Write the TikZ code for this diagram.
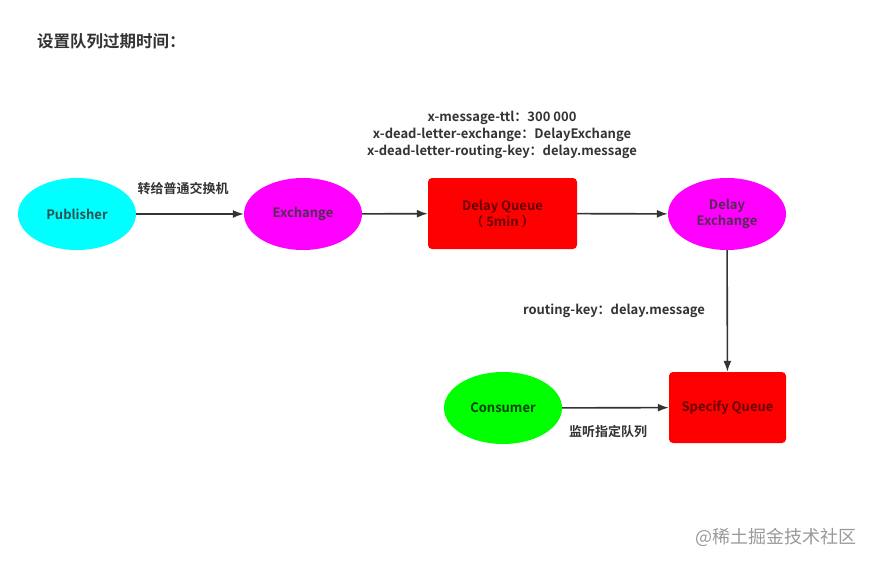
\documentclass[tikz,border=0pt]{standalone}
\usepackage{fontspec}
\setmainfont{Noto Sans CJK SC}[BoldFont={* Bold}]
\usetikzlibrary{shapes.geometric,arrows.meta}
\definecolor{txt}{HTML}{333333}
\definecolor{cyanf}{HTML}{00FFFF}
\definecolor{magf}{HTML}{FF00FF}
\definecolor{greenf}{HTML}{00FF00}
\definecolor{redf}{HTML}{FF0000}
\tikzset{
  base/.style={font=\bfseries\fontsize{13}{16}\selectfont, text=txt, align=center, inner sep=0pt},
  ell/.style={base, ellipse, minimum width=118pt, minimum height=72pt, text opacity=0.85},
  box/.style={base, rectangle, rounded corners=4pt, minimum width=149pt, minimum height=71pt, fill=redf, text opacity=0.6, text=black},
  lbl/.style={font=\bfseries\fontsize{13}{17}\selectfont, text=txt, align=center, inner sep=0pt},
  conn/.style={draw=txt, line width=1.6pt, -{Latex[length=11pt,width=8pt]}}
}
\begin{document}
\begin{tikzpicture}[x=1pt,y=-1pt]
\useasboundingbox (0,0) rectangle (872,565);
\node[lbl, anchor=west, font=\bfseries\fontsize{16.5}{18}\selectfont] (title) at (37,41) {设置队列过期时间：};
\node[ell, fill=cyanf] (pub) at (77,214) {Publisher};
\node[ell, fill=magf] (ex) at (303,214) {Exchange};
\node[box] (dq) at (502.5,213.5) {Delay Queue\\（ 5min ）};
\node[ell, fill=magf] (dex) at (727,214) {Delay\\Exchange};
\node[box, minimum width=117pt] (sq) at (727.5,407.5) {Specify Queue};
\node[ell, fill=greenf, text=black, text opacity=0.75] (con) at (503,408) {Consumer};
\draw[conn] (pub) -- (ex);
\draw[conn] (ex) -- (dq);
\draw[conn] (dq) -- (dex);
\draw[conn] (dex) -- (sq);
\draw[conn] (con) -- (sq);
\node[lbl] (l1) at (183,189) {转给普通交换机};
\node[lbl] (l2) at (502,135) {x-message-ttl：300 000\\x-dead-letter-exchange：DelayExchange\\x-dead-letter-routing-key：delay.message};
\node[lbl] (l3) at (614,311) {routing-key：delay.message};
\node[lbl] (l4) at (608,432) {监听指定队列};
\node[font=\fontsize{18}{20}\selectfont, text=black!40, anchor=west, inner sep=0pt] (wm) at (695,537) {@稀土掘金技术社区};
\end{tikzpicture}
\end{document}
